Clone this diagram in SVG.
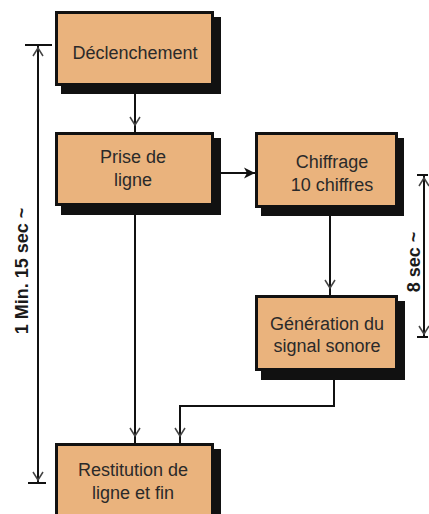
<svg xmlns="http://www.w3.org/2000/svg" width="429" height="514" viewBox="0 0 429 514">
  <defs>
    <style>
      .shadow { fill: #111; }
      .box { fill: #eab37d; stroke: #111; stroke-width: 3; }
      .label { font-family: "Liberation Sans", Arial, sans-serif; font-size: 18px; fill: #2a2a2a; text-anchor: middle; }
      .dimlabel { font-family: "Liberation Sans", Arial, sans-serif; font-size: 18px; font-weight: bold; fill: #1a1a1a; text-anchor: middle; }
      .conn { fill: none; stroke: #111; stroke-width: 2; }
      .dim { fill: none; stroke: #111; stroke-width: 2; }
      .tick { fill: none; stroke: #111; stroke-width: 2; }
    </style>
    <marker id="chev" viewBox="-10 -6 20 12" markerWidth="20" markerHeight="12" refX="7" refY="0" orient="auto" markerUnits="userSpaceOnUse">
      <path d="M-8,-5 L0,0 L-8,5" fill="none" stroke="#444" stroke-width="1.5"/>
    </marker>
    <marker id="chevEnd" viewBox="-10 -6 20 12" markerWidth="20" markerHeight="12" refX="3" refY="0" orient="auto" markerUnits="userSpaceOnUse">
      <path d="M-8,-5 L0,0 L-8,5" fill="none" stroke="#444" stroke-width="1.5"/>
    </marker>
    <marker id="chevStart" viewBox="-10 -6 20 12" markerWidth="20" markerHeight="12" refX="-3" refY="0" orient="auto" markerUnits="userSpaceOnUse">
      <path d="M8,-5 L0,0 L8,5" fill="none" stroke="#444" stroke-width="1.5"/>
    </marker>
    <marker id="solid" viewBox="-12 -6 13 12" markerWidth="13" markerHeight="12" refX="0" refY="0" orient="auto" markerUnits="userSpaceOnUse">
      <path d="M0,0 L-11,-5.5 L-8,0 L-11,5.5 Z" fill="#111"/>
    </marker>
  </defs>

  <g id="connectors">
    <line class="conn" x1="135" y1="94" x2="135" y2="132" marker-end="url(#chev)"/>
    <line class="conn" x1="221" y1="173" x2="255" y2="173" marker-end="url(#solid)"/>
    <line class="conn" x1="330" y1="216" x2="330" y2="295" marker-end="url(#chev)"/>
    <polyline class="conn" points="334,380 334,406 180,406 180,443" marker-end="url(#chev)"/>
    <line class="conn" x1="135" y1="215" x2="135" y2="443" marker-end="url(#chev)"/>
  </g>

  <g id="dimension-left">
    <line class="dim" x1="38" y1="45" x2="38" y2="483" marker-start="url(#chevStart)" marker-end="url(#chevEnd)"/>
    <line class="tick" x1="25" y1="45" x2="52" y2="45"/>
    <line class="tick" x1="28" y1="483" x2="46" y2="483"/>
    <text class="dimlabel" transform="translate(28,271) rotate(-90)">1 Min. 15 sec ~</text>
  </g>

  <g id="dimension-right">
    <line class="dim" x1="424" y1="175" x2="424" y2="337" marker-start="url(#chevStart)" marker-end="url(#chevEnd)"/>
    <line class="tick" x1="417" y1="175" x2="428" y2="175"/>
    <line class="tick" x1="417" y1="337" x2="428" y2="337"/>
    <text class="dimlabel" transform="translate(420,262) rotate(-90)">8 sec ~</text>
  </g>

  <g id="declenchement">
    <rect class="shadow" x="61" y="17" width="160" height="77"/>
    <rect class="box" x="56.5" y="12.5" width="156" height="72"/>
    <text class="label" x="135" y="59">Déclenchement</text>
  </g>

  <g id="prise-de-ligne">
    <rect class="shadow" x="61" y="138" width="160" height="77"/>
    <rect class="box" x="56.5" y="133.5" width="156" height="71"/>
    <text class="label" x="133" y="163">Prise de</text>
    <text class="label" x="133" y="186">ligne</text>
  </g>

  <g id="chiffrage">
    <rect class="shadow" x="261" y="138" width="143" height="78"/>
    <rect class="box" x="256.5" y="133.5" width="140" height="73"/>
    <text class="label" x="332" y="168">Chiffrage</text>
    <text class="label" x="332" y="191">10 chiffres</text>
  </g>

  <g id="generation">
    <rect class="shadow" x="261" y="301" width="144" height="79"/>
    <rect class="box" x="256.5" y="296.5" width="140" height="73"/>
    <text class="label" x="327" y="330">Génération du</text>
    <text class="label" x="327" y="352">signal sonore</text>
  </g>

  <g id="restitution">
    <rect class="shadow" x="61" y="449" width="160" height="80"/>
    <rect class="box" x="56.5" y="444.5" width="156" height="80"/>
    <text class="label" x="133" y="476">Restitution de</text>
    <text class="label" x="133" y="499">ligne et fin</text>
  </g>
</svg>
